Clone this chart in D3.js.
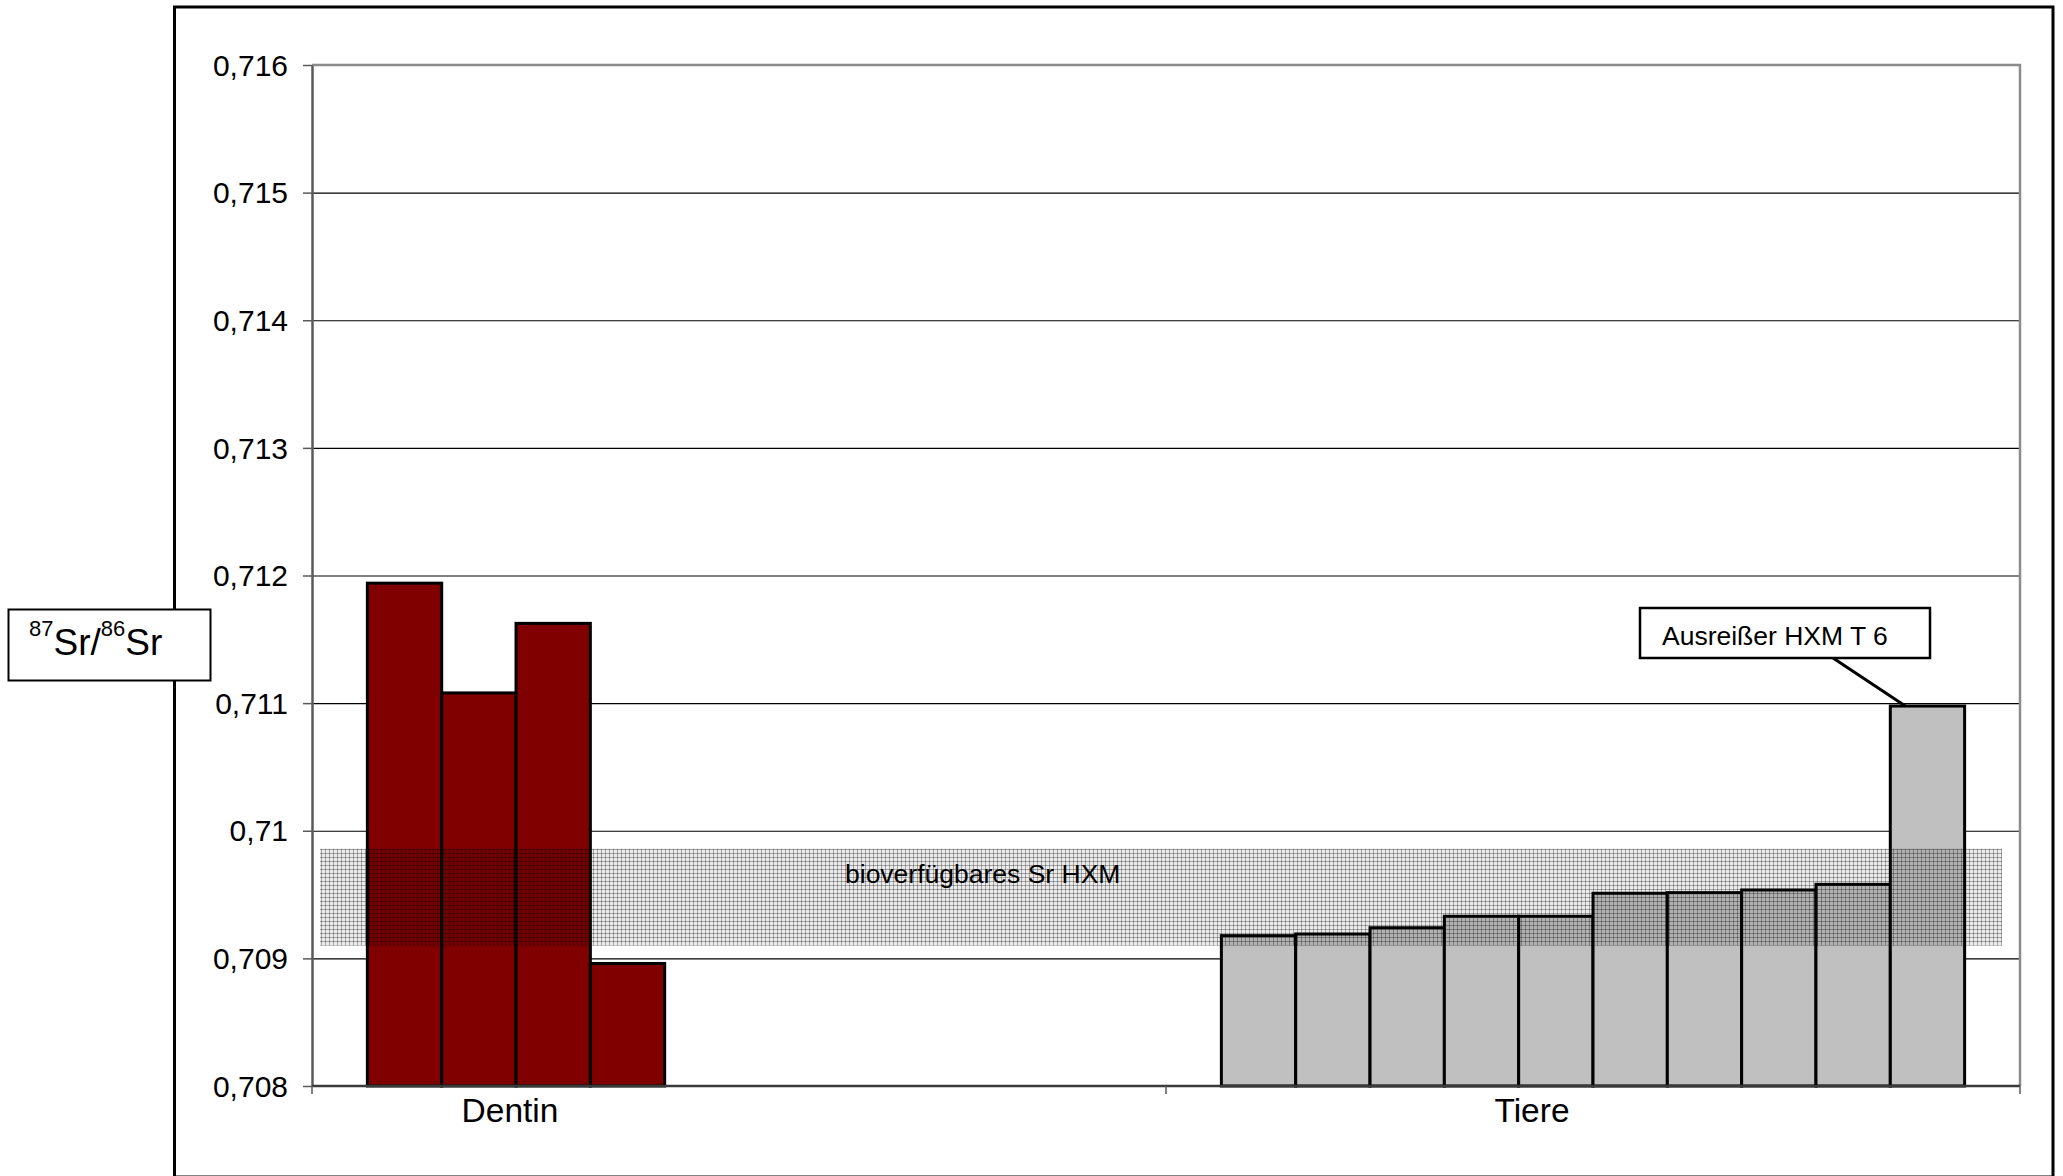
<!DOCTYPE html>
<html>
<head>
<meta charset="utf-8">
<title>87Sr/86Sr Dentin / Tiere</title>
<script src="https://d3js.org/d3.v7.min.js"></script>
<style>
  body { margin: 0; background: #fff; }
  svg text { font-family: Arial, "Liberation Sans", sans-serif; fill: #000; }
</style>
</head>
<body>
<script>
// data
var categories = ["Dentin", "Tiere"];
var dentinValues = [0.71194, 0.71108, 0.711625, 0.70896];
var tiereValues = [0.709178, 0.709191, 0.70924, 0.70933, 0.70933, 0.70951, 0.709515, 0.709536, 0.70958, 0.710977];
var yTicks = [0.708, 0.709, 0.71, 0.711, 0.712, 0.713, 0.714, 0.715, 0.716];
var bioBand = [0.7091, 0.70986];   // bioverfuegbares Sr HXM range
var outlierIndex = 9;              // Ausreisser HXM T 6

var colors = { Dentin: "#800000", Tiere: "#c0c0c0" };

var W = 2063, H = 1176;
var plot = { left: 312, top: 65, right: 2020, bottom: 1086 };

var svg = d3.select("body").append("svg")
    .attr("width", W)
    .attr("height", H);

svg.append("rect").attr("width", W).attr("height", H).attr("fill", "#fff");

// hatch pattern for the band
var defs = svg.append("defs");
var pat = defs.append("pattern")
    .attr("id", "dots")
    .attr("patternUnits", "userSpaceOnUse")
    .attr("width", 4).attr("height", 4);
pat.append("rect").attr("width", 4).attr("height", 4).attr("fill", "rgba(0,0,0,0.08)");
pat.append("rect").attr("x", 0).attr("y", 1).attr("width", 4).attr("height", 1).attr("fill", "rgba(0,0,0,0.30)");
pat.append("rect").attr("x", 1).attr("y", 0).attr("width", 1).attr("height", 4).attr("fill", "rgba(0,0,0,0.30)");

// outer chart frame
svg.append("rect")
    .attr("x", 174.5).attr("y", 7)
    .attr("width", 2053 - 174.5).attr("height", 1170)
    .attr("fill", "none").attr("stroke", "#000").attr("stroke-width", 3);

// scales
var y = d3.scaleLinear().domain([yTicks[0], yTicks[yTicks.length - 1]]).range([plot.bottom, plot.top]);
var x0 = d3.scaleBand().domain(categories).range([plot.left, plot.right]);
var x1 = d3.scaleBand().domain(d3.range(tiereValues.length))
    .range([0, x0.bandwidth()])
    .paddingInner(0).paddingOuter(0.745);

var fmt = d3.formatLocale({ decimal: ",", thousands: ".", grouping: [3], currency: ["", ""] }).format(".3~f");

// gridlines
svg.append("g")
    .attr("transform", "translate(" + plot.left + ",0)")
    .call(d3.axisLeft(y).tickValues(yTicks.slice(0, -1)).tickSize(-(plot.right - plot.left)).tickFormat(""))
    .call(function(g) {
      g.select(".domain").remove();
      g.selectAll(".tick line").attr("stroke", "#000").attr("stroke-width", 1.2);
    });

// plot border top/right
svg.append("path")
    .attr("d", "M" + plot.left + "," + plot.top + "H" + plot.right + "V" + plot.bottom)
    .attr("fill", "none").attr("stroke", "#8c8c8c").attr("stroke-width", 2.5);

// bars
var series = { Dentin: dentinValues, Tiere: tiereValues };
var barData = [];
categories.forEach(function(c) {
  series[c].forEach(function(v, i) { barData.push({ cat: c, i: i, value: v }); });
});

svg.append("g").selectAll("rect")
    .data(barData)
  .enter().append("rect")
    .attr("x", function(d) { return x0(d.cat) + x1(d.i); })
    .attr("y", function(d) { return y(d.value); })
    .attr("width", x1.bandwidth())
    .attr("height", function(d) { return y.range()[0] - y(d.value); })
    .attr("fill", function(d) { return colors[d.cat]; })
    .attr("stroke", "#000")
    .attr("stroke-width", 3);

// band of bioavailable Sr
var bandX0 = plot.left + 8, bandX1 = plot.right - 18;
svg.append("rect")
    .attr("x", bandX0)
    .attr("y", y(bioBand[1]))
    .attr("width", bandX1 - bandX0)
    .attr("height", y(bioBand[0]) - y(bioBand[1]))
    .attr("fill", "url(#dots)");

svg.append("text")
    .attr("x", 845).attr("y", 883)
    .style("font-size", "26.5px")
    .text("bioverfügbares Sr HXM");

// y axis
svg.append("g")
    .attr("transform", "translate(" + plot.left + ",0)")
    .call(d3.axisLeft(y).tickValues(yTicks).tickSize(9).tickSizeOuter(0).tickPadding(15).tickFormat(fmt))
    .call(function(g) {
      g.select(".domain").attr("stroke", "#5a5a5a").attr("stroke-width", 2.5);
      g.selectAll(".tick line").attr("stroke", "#5a5a5a").attr("stroke-width", 1.5);
      g.selectAll(".tick text").style("font-size", "30px").attr("fill", "#000").attr("dy", "0.34em");
    });

// x axis line + category boundary ticks
svg.append("line")
    .attr("x1", plot.left).attr("x2", plot.right)
    .attr("y1", plot.bottom).attr("y2", plot.bottom)
    .attr("stroke", "#3a3a3a").attr("stroke-width", 2.5);
var bounds = categories.map(function(c) { return x0(c); }).concat([x0.range()[1]]);
svg.append("g").selectAll("line")
    .data(bounds)
  .enter().append("line")
    .attr("x1", function(d) { return d; }).attr("x2", function(d) { return d; })
    .attr("y1", plot.bottom).attr("y2", plot.bottom + 8)
    .attr("stroke", "#5a5a5a").attr("stroke-width", 1.5);

var catLabelX = { Dentin: 510, Tiere: 1532 };
svg.append("g").selectAll("text")
    .data(categories)
  .enter().append("text")
    .attr("x", function(d) { return catLabelX[d]; })
    .attr("y", 1122)
    .attr("text-anchor", "middle")
    .style("font-size", "33.5px")
    .text(function(d) { return d; });

// y axis title box
svg.append("rect")
    .attr("x", 8.5).attr("y", 609.5)
    .attr("width", 202).attr("height", 71)
    .attr("fill", "#fff").attr("stroke", "#000").attr("stroke-width", 2);
var yt = svg.append("text").attr("x", 29).attr("y", 655).style("font-size", "37px");
yt.append("tspan").attr("dy", -19).style("font-size", "22px").text("87");
yt.append("tspan").attr("dy", 19).text("Sr/");
yt.append("tspan").attr("dy", -19).style("font-size", "22px").text("86");
yt.append("tspan").attr("dy", 19).text("Sr");

// outlier callout
var ox = x0("Tiere") + x1(outlierIndex) + 15;
var oy = y(tiereValues[outlierIndex]);
svg.append("line")
    .attr("x1", 1833).attr("y1", 658)
    .attr("x2", ox).attr("y2", oy)
    .attr("stroke", "#000").attr("stroke-width", 3);
svg.append("rect")
    .attr("x", 1640).attr("y", 608)
    .attr("width", 290).attr("height", 50)
    .attr("fill", "#fff").attr("stroke", "#000").attr("stroke-width", 2.5);
svg.append("text")
    .attr("x", 1662).attr("y", 645)
    .style("font-size", "26.5px")
    .text("Ausreißer HXM T 6");
</script>
</body>
</html>
